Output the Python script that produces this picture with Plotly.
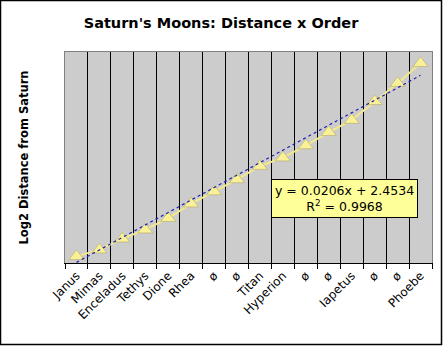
import plotly.graph_objects as go

# ---- data ----
moons = ["Janus", "Mimas", "Enceladus", "Tethys", "Dione", "Rhea", "ø", "ø",
         "Titan", "Hyperion", "ø", "ø", "Iapetus", "ø", "ø", "Phoebe"]
order = list(range(1, len(moons) + 1))
log2_distance = [2.484, 2.495, 2.513, 2.528, 2.547, 2.571, 2.591, 2.611,
                 2.633, 2.647, 2.667, 2.689, 2.709, 2.740, 2.770, 2.803]
trend_slope = 0.0206
trend_intercept = 2.4534
trend_r2 = 0.9968
y_range = [2.473, 2.8215]

trend_y = [trend_slope * x + trend_intercept for x in order]
boundaries = [i + 0.5 for i in range(0, len(moons) + 1)]

W, H = 443, 346
L, R, T, B = 65, 11, 52, 83
pw, ph = W - L - R, H - T - B

fig = go.Figure()

fig.add_trace(go.Scatter(
    x=order, y=trend_y, xaxis="x2", mode="lines",
    line=dict(color="#2020B0", width=1.2, dash="dot"),
    hoverinfo="skip", showlegend=False))

fig.add_trace(go.Scatter(
    x=order, y=log2_distance, mode="lines+markers",
    line=dict(color="#F3E98C", width=2),
    marker=dict(symbol="triangle-up", size=13, color="#FAF196",
                line=dict(color="#B0A870", width=0.6)),
    showlegend=False))

fig.update_layout(
    width=W, height=H,
    margin=dict(l=L, r=R, t=T, b=B, pad=0),
    paper_bgcolor="white", plot_bgcolor="#CCCCCC",
    font=dict(family="DejaVu Sans", color="black"),
    title=dict(text="<b>Saturn's Moons: Distance x Order</b>",
               x=221 / W, xanchor="center",
               y=1 - 23 / H, yanchor="middle",
               font=dict(size=14.5, family="DejaVu Sans", color="black")),
    xaxis=dict(range=[0.5, len(moons) + 0.5], tickmode="array",
               tickvals=order, ticktext=moons, tickangle=-45,
               ticks="", showgrid=False, zeroline=False,
               showline=True, linecolor="#808080", linewidth=1, mirror=True,
               tickfont=dict(size=12, family="DejaVu Sans", color="black")),
    xaxis2=dict(range=[0.5, len(moons) + 0.5], overlaying="x", anchor="y",
                side="bottom", tickmode="array", tickvals=boundaries,
                showticklabels=False, ticks="outside", ticklen=5,
                tickcolor="black", tickwidth=1,
                showgrid=True, gridcolor="black", gridwidth=1,
                zeroline=False, showline=True, linecolor="black", linewidth=1),
    yaxis=dict(range=y_range, showticklabels=False, ticks="", showgrid=False,
               zeroline=False, showline=True, linecolor="#808080",
               linewidth=1, mirror=True,
               title=dict(text="<b>Log2 Distance from Saturn</b>", standoff=32,
                          font=dict(size=11.5, family="DejaVu Sans", color="black"))),
    shapes=[dict(type="rect", xref="paper", yref="paper",
                 x0=(0.5 - L) / pw, x1=(W - 1.5 - L) / pw,
                 y0=-(B - 1.5) / ph, y1=1 + (T - 0.5) / ph,
                 line=dict(color="black", width=1.5))],
    annotations=[dict(
        xref="paper", yref="paper",
        x=(344 - L) / pw, y=1 - (198 - T) / ph,
        xanchor="center", yanchor="middle",
        text=f"y = {trend_slope}x + {trend_intercept}<br>R<sup>2</sup> = {trend_r2}",
        showarrow=False, align="center",
        bgcolor="#FFFF99", bordercolor="black", borderwidth=1, borderpad=3,
        font=dict(size=12.5, family="DejaVu Sans", color="black"))],
)

fig.write_html("out.html")
